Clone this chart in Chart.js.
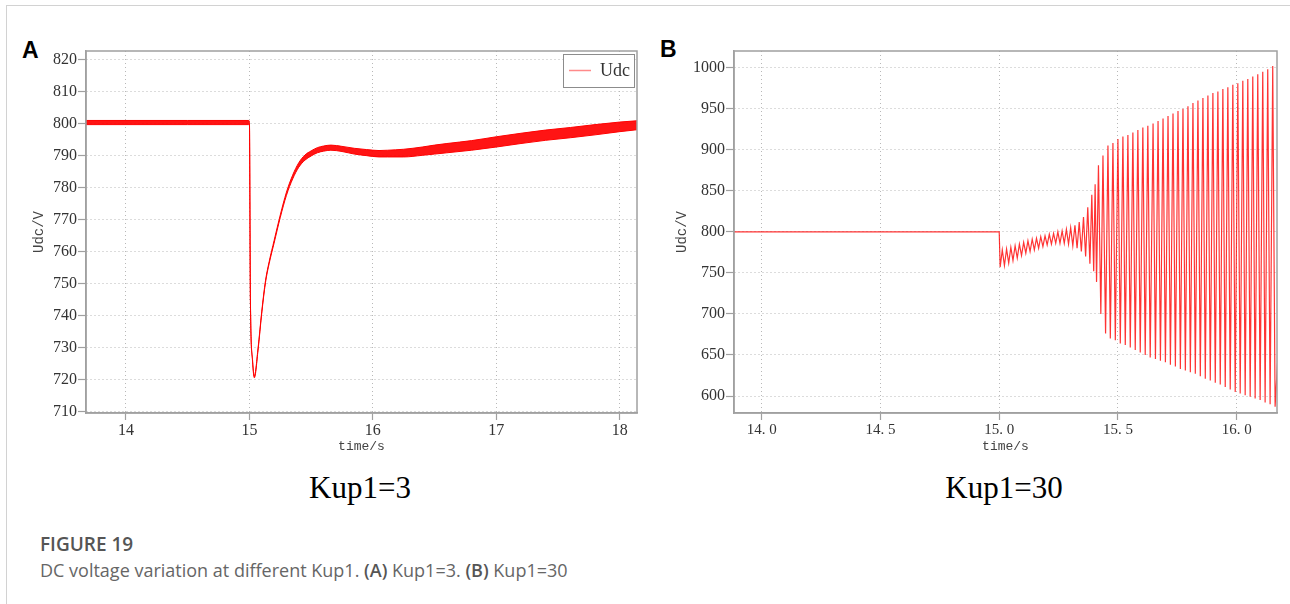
<!DOCTYPE html>
<html>
<head>
<meta charset="utf-8">
<script src="https://cdn.jsdelivr.net/npm/chart.js@4.4.1/dist/chart.umd.min.js"></script>
<style>
  html, body { margin: 0; padding: 0; background: #fff; }
  body { width: 1290px; height: 604px; position: relative; overflow: hidden; }
  .frame { position: absolute; left: 6px; top: 5px; right: -4px; bottom: -4px;
           border-top: 1.5px solid #d2d2d2; border-left: 1.5px solid #d2d2d2; }
  .tag { position: absolute; font: bold 23px "Liberation Sans", Arial, sans-serif; line-height: 23px; color: #000; }
  canvas { position: absolute; top: 0; }
  .sub { position: absolute; font: 31px "Liberation Serif", serif; line-height: 31px; color: #000;
         transform: translateX(-50%); white-space: nowrap; }
  .fig { position: absolute; left: 40px; top: 535px; font: 600 19px "Open Sans", sans-serif; line-height: 19px; color: #555; }
  .cap { position: absolute; left: 40px; top: 561px; font: 18px "Open Sans", sans-serif; line-height: 18px; color: #666; white-space: nowrap; }
  .cap b { font-weight: 600; color: #555; }
</style>
</head>
<body>
<div class="frame"></div>
<div class="tag" style="left:22px;top:39px;">A</div>
<div class="tag" style="left:660px;top:38px;">B</div>
<canvas id="chartA" width="650" height="460" style="left:0px;"></canvas>
<canvas id="chartB" width="645" height="460" style="left:645px;"></canvas>
<div class="sub" style="left:360px;top:472px;">Kup1=3</div>
<div class="sub" style="left:1004px;top:472px;">Kup1=30</div>
<div class="fig">FIGURE 19</div>
<div class="cap">DC voltage variation at different Kup1. <b>(A)</b> Kup1=3. <b>(B)</b> Kup1=30</div>

<script>
// ---- Panel A (Kup1=3): DC voltage, ripple band given by its upper and lower edges ----
const aTime  = [13.676, 14.0, 14.5, 14.995, 15.0, 15.008, 15.025, 15.04, 15.07, 15.10, 15.13, 15.16,
                15.20, 15.25, 15.30, 15.35, 15.40, 15.45, 15.50, 15.55, 15.60, 15.66, 15.75, 15.85,
                15.95, 16.05, 16.12, 16.25, 16.4, 16.5, 16.6, 16.8, 17.0, 17.2, 17.4, 17.6, 17.8, 18.0, 18.14];
const aUpper = [800.9, 800.9, 800.9, 800.9, 800.5, 745.3, 726.3, 721.1, 729.8, 741.3, 750.8, 756.8,
                763.4, 771.4, 778.5, 783.8, 787.7, 790.1, 791.4, 792.4, 792.9, 793.2, 792.8, 792.2,
                791.8, 791.5, 791.6, 791.9, 792.6, 793.2, 793.7, 794.6, 795.8, 796.9, 797.9, 798.7, 799.6, 800.4, 800.8];
const aLower = [799.6, 799.6, 799.6, 799.6, 799.7, 744.7, 725.7, 720.5, 729.2, 740.7, 750.2, 756.2,
                762.6, 770.6, 777.5, 782.6, 786.3, 788.5, 789.8, 790.8, 791.3, 791.6, 791.2, 790.4,
                789.9, 789.5, 789.5, 789.5, 790.0, 790.4, 790.8, 791.6, 792.6, 793.7, 794.7, 795.5, 796.4, 797.4, 798.0];
const aXTicks = [14, 15, 16, 17, 18];
const aXTickLabels = ['14', '15', '16', '17', '18'];
const aYTicks = [710, 720, 730, 740, 750, 760, 770, 780, 790, 800, 810, 820];
const aYTickLabels = ['710', '720', '730', '740', '750', '760', '770', '780', '790', '800', '810', '820'];

// ---- Panel B (Kup1=30): DC voltage, growing oscillation (turning points) ----
const bTime = [13.883, 15.000,
  15.004, 15.013, 15.022, 15.031, 15.040, 15.049, 15.058, 15.067, 15.076, 15.085,
  15.094, 15.103, 15.112, 15.121, 15.130, 15.139, 15.148, 15.157, 15.166, 15.175,
  15.184, 15.193, 15.202, 15.211, 15.220, 15.229, 15.238, 15.247, 15.256, 15.265,
  15.274, 15.283, 15.292, 15.301, 15.310, 15.319, 15.328, 15.337, 15.346, 15.355,
  15.364, 15.373, 15.382, 15.390, 15.398, 15.404, 15.410, 15.418, 15.428, 15.437,
  15.448, 15.458, 15.468, 15.479, 15.489, 15.500, 15.510, 15.521, 15.531, 15.542,
  15.552, 15.563, 15.573, 15.584, 15.594, 15.605, 15.615, 15.626, 15.636, 15.648,
  15.658, 15.669, 15.679, 15.690, 15.700, 15.711, 15.721, 15.732, 15.742, 15.753,
  15.763, 15.774, 15.784, 15.795, 15.805, 15.816, 15.826, 15.837, 15.847, 15.858,
  15.868, 15.879, 15.889, 15.900, 15.910, 15.921, 15.931, 15.942, 15.952, 15.963,
  15.973, 15.984, 15.994, 16.005, 16.015, 16.026, 16.036, 16.047, 16.057, 16.068,
  16.078, 16.089, 16.099, 16.110, 16.120, 16.131, 16.141, 16.152, 16.162, 16.172];
const bValue = [800, 800,
  757, 778, 759, 779, 762, 781, 765, 783, 768, 785,
  771, 787, 774, 789, 776, 791, 778, 792, 780, 794,
  782, 795, 784, 797, 785, 798, 786, 800, 786, 801,
  786, 803, 785, 805, 783, 808, 780, 812, 776, 818,
  770, 830, 761, 845, 752, 858, 739, 881, 700, 893,
  676, 905, 670, 908, 668, 913, 664, 916, 662, 918,
  659, 921, 656, 924, 653, 927, 650, 929, 647, 932,
  645, 935, 643, 938, 641, 941, 638, 944, 636, 947,
  633, 950, 631, 953, 629, 957, 627, 960, 624, 963,
  621, 966, 619, 969, 616, 971, 614, 974, 611, 976,
  608, 979, 605, 981, 603, 984, 601, 986, 599, 989,
  597, 992, 595, 995, 592, 998, 590, 1002, 587, 640];
const bXTicks = [14.0, 14.5, 15.0, 15.5, 16.0];
const bXTickLabels = ['14. 0', '14. 5', '15. 0', '15. 5', '16. 0'];
const bYTicks = [600, 650, 700, 750, 800, 850, 900, 950, 1000];
const bYTickLabels = ['600', '650', '700', '750', '800', '850', '900', '950', '1000'];

const AXIS_GREY = '#a0a0a0';
const GRID_GREY = '#b8b8b8';
const TICK_TEXT = '#333';
const SERIF = "'Liberation Serif', serif";
const MONO = "'Liberation Mono', monospace";

// Box around the plotting area
const plotFrame = {
  id: 'plotFrame',
  afterDatasetsDraw(chart) {
    const { ctx, chartArea: a } = chart;
    ctx.save();
    ctx.strokeStyle = AXIS_GREY;
    ctx.lineWidth = 1.5;
    ctx.strokeRect(a.left, a.top, a.right - a.left, a.bottom - a.top);
    ctx.restore();
  }
};

// Small framed legend in the upper right corner of the plot
const insetLegend = {
  id: 'insetLegend',
  afterDatasetsDraw(chart, args, opts) {
    if (!opts || !opts.display) return;
    const { ctx, chartArea: a } = chart;
    const w = 71, h = 33, x = a.right - 3 - w, y = a.top + 3;
    ctx.save();
    ctx.fillStyle = '#fff';
    ctx.fillRect(x, y, w, h);
    ctx.strokeStyle = '#8c8c8c';
    ctx.lineWidth = 1;
    ctx.strokeRect(x + 0.5, y + 0.5, w, h);
    ctx.strokeStyle = '#ff8a8a';
    ctx.lineWidth = 1.5;
    ctx.beginPath();
    ctx.moveTo(x + 6, y + 16.5);
    ctx.lineTo(x + 28, y + 16.5);
    ctx.stroke();
    ctx.fillStyle = TICK_TEXT;
    ctx.font = "18px 'Liberation Serif'";
    ctx.textBaseline = 'middle';
    ctx.fillText(opts.text, x + 37, y + 17);
    ctx.restore();
  }
};

function makeScales(p) {
  return {
    x: {
      type: 'linear', min: p.xMin, max: p.xMax,
      afterBuildTicks: s => { s.ticks = p.xTicks.map(v => ({ value: v })); },
      afterFit: s => { s.height = 47; },
      ticks: {
        callback: (v, i) => p.xLabels[i],
        font: { family: SERIF, size: p.xFont }, color: TICK_TEXT,
        padding: 1, maxRotation: 0, autoSkip: false
      },
      grid: { color: GRID_GREY, lineWidth: 1, tickColor: AXIS_GREY, tickLength: 7, tickWidth: 1.2, tickBorderDash: [] },
      border: { color: AXIS_GREY, width: 1.5, dash: [1, 3] },
      title: { display: true, text: 'time/s', color: '#444',
               font: { family: MONO, size: 13 }, padding: { top: 0, bottom: 6 } }
    },
    y: {
      type: 'linear', min: p.yMin, max: p.yMax,
      afterBuildTicks: s => { s.ticks = p.yTicks.map(v => ({ value: v })); },
      afterFit: s => { s.width = p.yWidth; },
      ticks: { callback: (v, i) => p.yLabels[i], font: { family: SERIF, size: 16 }, color: TICK_TEXT, padding: 1 },
      grid: { color: GRID_GREY, lineWidth: 1, tickColor: AXIS_GREY, tickLength: 8, tickWidth: 1.2, tickBorderDash: [] },
      border: { color: AXIS_GREY, width: 1.5, dash: [1, 3] },
      title: { display: true, text: 'Udc/V', color: '#444',
               font: { family: MONO, size: 14 }, padding: { top: p.yTitlePad, bottom: 0 } }
    }
  };
}

function baseOptions(p, legendText) {
  return {
    responsive: false,
    animation: false,
    events: [],
    layout: { padding: { top: 51, right: 13, left: 0, bottom: 0 } },
    scales: makeScales(p),
    plugins: {
      legend: { display: false },
      tooltip: { enabled: false },
      insetLegend: { display: !!legendText, text: legendText || '' }
    }
  };
}

// Panel A
new Chart(document.getElementById('chartA'), {
  type: 'line',
  data: {
    datasets: [
      {
        label: 'Udc',
        data: aTime.map((t, i) => ({ x: t, y: aUpper[i] })),
        borderColor: '#ff0000', borderWidth: 1, pointRadius: 0,
        cubicInterpolationMode: 'monotone', fill: false
      },
      {
        label: 'Udc lower',
        data: aTime.map((t, i) => ({ x: t, y: aLower[i] })),
        borderColor: '#ff0000', borderWidth: 1, pointRadius: 0,
        cubicInterpolationMode: 'monotone', fill: '-1', backgroundColor: 'rgba(255,0,0,0.92)'
      }
    ]
  },
  options: baseOptions({
    xMin: 13.676, xMax: 18.14, yMin: 709.5, yMax: 822.6,
    xTicks: aXTicks, xLabels: aXTickLabels, yTicks: aYTicks, yLabels: aYTickLabels,
    xFont: 16, yWidth: 86, yTitlePad: 31
  }, 'Udc'),
  plugins: [plotFrame, insetLegend]
});

// Panel B
new Chart(document.getElementById('chartB'), {
  type: 'line',
  data: {
    datasets: [
      {
        label: 'Udc',
        data: bTime.map((t, i) => ({ x: t, y: bValue[i] })),
        borderColor: 'rgba(255,0,0,0.8)', borderWidth: 1.2, pointRadius: 0,
        tension: 0, fill: false
      }
    ]
  },
  options: baseOptions({
    xMin: 13.883, xMax: 16.17, yMin: 579.3, yMax: 1020.2,
    xTicks: bXTicks, xLabels: bXTickLabels, yTicks: bYTicks, yLabels: bYTickLabels,
    xFont: 15, yWidth: 89, yTitlePad: 29
  }, null),
  plugins: [plotFrame, insetLegend]
});
</script>
</body>
</html>
